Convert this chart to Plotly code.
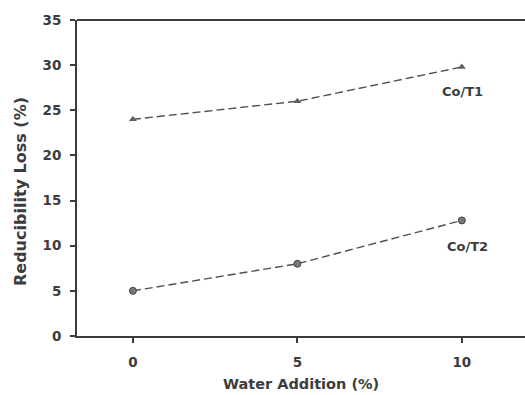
import plotly.graph_objects as go

water = [0, 5, 10]
co_t1 = [24, 26, 29.8]
co_t2 = [5, 8, 12.8]
series_names = ["Co/T1", "Co/T2"]
x_ticks = [0, 5, 10]
y_ticks = [0, 5, 10, 15, 20, 25, 30, 35]

ink = "#3c3c3c"
fnt = "DejaVu Sans"
fig = go.Figure()
fig.add_trace(go.Scatter(x=water, y=co_t1, mode="lines+markers", name=series_names[0],
                         line=dict(color="#505050", width=1.4, dash="8px,4px"),
                         marker=dict(symbol="triangle-up", size=7, color="#606060")))
fig.add_trace(go.Scatter(x=water, y=co_t2, mode="lines+markers", name=series_names[1],
                         line=dict(color="#505050", width=1.4, dash="8px,4px"),
                         marker=dict(symbol="circle", size=7, color="#777", line=dict(color="#444", width=1))))

fig.add_annotation(x=water[-1], y=co_t1[-1], text="<b>Co/T1</b>", showarrow=False,
                   xshift=1, yshift=-25, font=dict(size=13, color=ink, family=fnt))
fig.add_annotation(x=water[-1], y=co_t2[-1], text="<b>Co/T2</b>", showarrow=False,
                   xshift=6, yshift=-26, font=dict(size=13, color=ink, family=fnt))

# axis titles
fig.add_annotation(xref="paper", yref="paper", x=0.5, y=0, yshift=-48, text="<b>Water Addition (%)</b>",
                   showarrow=False, font=dict(size=14.5, color=ink, family=fnt), yanchor="middle")
fig.add_annotation(xref="paper", yref="paper", x=0, y=0.5, xshift=-57, yshift=-14,
                   text="<b>Reducibility Loss (%)</b>", textangle=-90, xanchor="center",
                   showarrow=False, font=dict(size=16, color=ink, family=fnt))

fig.update_layout(
    width=525, height=395,
    margin=dict(l=77, r=0, t=20, b=59),
    paper_bgcolor="white", plot_bgcolor="white",
    showlegend=False,
    font=dict(family=fnt, color=ink, size=12),
    xaxis=dict(range=[-1.7, 11.92], tickvals=x_ticks, ticktext=[f"<b>{v}</b>" for v in x_ticks],
               showgrid=False, zeroline=False, showline=True, linecolor=ink, linewidth=2,
               ticks="outside", ticklen=5, tickcolor=ink, tickwidth=1.5,
               ticklabelstandoff=8, tickfont=dict(size=13.5)),
    yaxis=dict(range=[0, 35], tickvals=y_ticks, ticktext=[f"<b>{v}</b>" for v in y_ticks],
               showgrid=False, zeroline=False, showline=True, linecolor=ink, linewidth=2,
               ticks="outside", ticklen=5, tickcolor=ink, tickwidth=1.5,
               ticklabelstandoff=6, tickfont=dict(size=13.5)),
)
fig.add_shape(type="line", xref="paper", yref="paper", x0=0, x1=1, y0=1, y1=1,
              line=dict(color=ink, width=2))

fig.write_html("out.html")
